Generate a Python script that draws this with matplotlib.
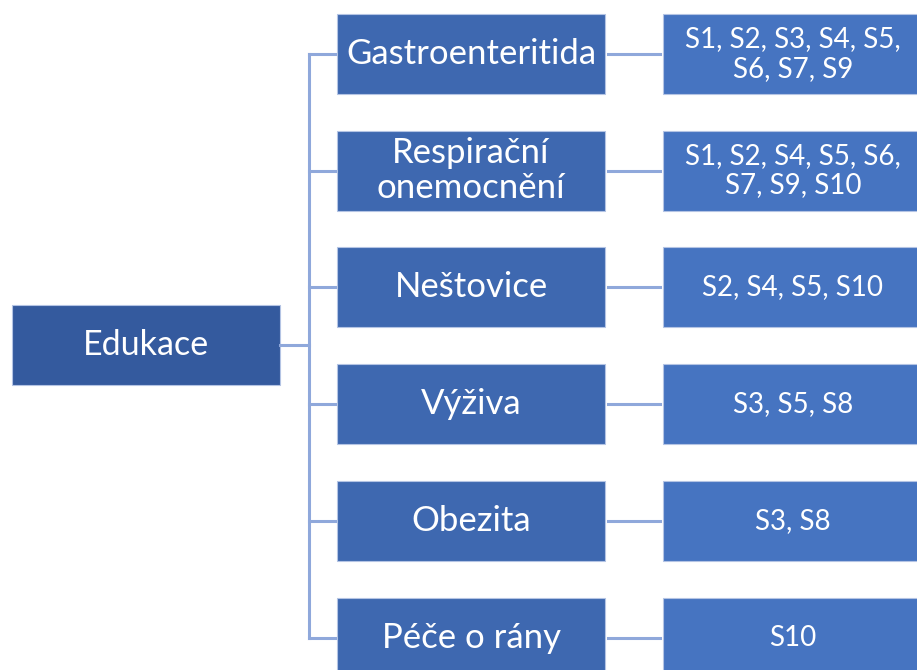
import matplotlib.pyplot as plt
from matplotlib.patches import Rectangle

root = "Edukace"
topics = ["Gastroenteritida", "Respirační\nonemocnění", "Neštovice", "Výživa", "Obezita", "Péče o rány"]
sources = ["S1, S2, S3, S4, S5,\nS6, S7, S9", "S1, S2, S4, S5, S6,\nS7, S9, S10", "S2, S4, S5, S10",
           "S3, S5, S8", "S3, S8", "S10"]

root_color = "#345a9e"
mid_color = "#3e68b0"
right_color = "#4674c1"
line_color = "#8fa8db"
edge = "#b4c4e4"

plt.rcParams['font.family'] = ['Lato', 'DejaVu Sans']

fig = plt.figure(figsize=(9.17, 6.70), dpi=100)
ax = fig.add_axes([0, 0, 1, 1])
ax.set_xlim(0, 917)
ax.set_ylim(670, 0)
ax.axis('off')

def box(x0, y0, w, h, color, text, size):
    ax.add_patch(Rectangle((x0, y0), w, h, facecolor=color, edgecolor=edge, lw=0.8))
    ax.text(x0 + w / 2, y0 + h / 2, text, color='white', fontsize=size, ha='center', va='center',
            linespacing=1.1)

# kořen
box(12, 305, 268, 80, root_color, root, 24.5)
ax.plot([280, 309], [345, 345], color=line_color, lw=2.2)

row_top = 14
step = 116.7
h = 80
centers = [row_top + i * step + h / 2 for i in range(len(topics))]
ax.plot([309, 309], [centers[0], centers[-1]], color=line_color, lw=2.2, solid_capstyle='projecting')

for i, (t, s) in enumerate(zip(topics, sources)):
    y0 = row_top + i * step
    cy = y0 + h / 2
    ax.plot([309, 335], [cy, cy], color=line_color, lw=2.2)
    box(337, y0, 268, h, mid_color, t, 25)
    ax.plot([608, 660], [cy, cy], color=line_color, lw=2.2)
    box(663, y0, 268, h, right_color, "", 20)
    ax.text(663 + 254 / 2 + 3, cy, s, color='white', fontsize=20, ha='center', va='center',
            linespacing=1.15)

fig.savefig("out.png", dpi=100)
